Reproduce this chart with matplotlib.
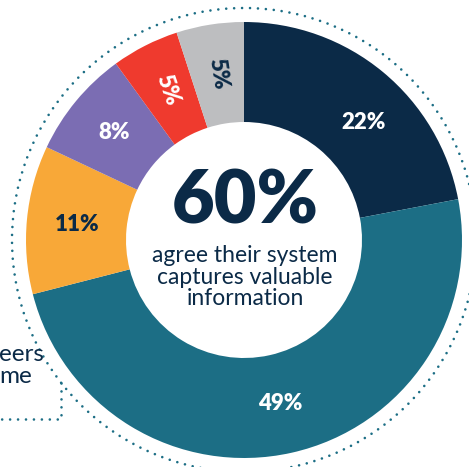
import matplotlib

matplotlib.use("Agg")

import matplotlib.pyplot as plt
import numpy as np
from matplotlib.patches import Circle

# data
shares = [22, 49, 11, 8, 5, 5]
labels = ["22%", "49%", "11%", "8%", "5%", "5%"]
colors = ["#0B2A47", "#1C6E85", "#F8A838", "#7B6DB3", "#EF3A2E", "#BDBEC0"]
label_colors = ["white", "white", "#0B2A47", "white", "white", "#0B2A47"]
rotated = [False, False, False, False, True, True]
headline = "60%"
subtitle = "agree their system\ncaptures valuable\ninformation"
callout = "eers\nme"

NAVY = "#0B2A47"
TEAL = "#1C6E85"
FONT = ["Lato", "DejaVu Sans"]

W, H = 469, 467
cx, cy = 244, H - 240
R = 218
R_IN = 118
R_DOTS = 232

fig = plt.figure(figsize=(W / 100, H / 100), dpi=100)
ax = fig.add_axes([0, 0, 1, 1])

wedges, _ = ax.pie(
    shares,
    colors=colors,
    startangle=90,
    counterclock=False,
    radius=R,
    center=(cx, cy),
    wedgeprops=dict(width=R - R_IN, edgecolor="none", linewidth=0),
    frame=True,
)
ax.set_xlim(0, W)
ax.set_ylim(0, H)
ax.set_aspect("equal")
ax.axis("off")

# labels at wedge midpoints
label_r = 168
for i, (wedge, text, color, rot) in enumerate(zip(wedges, labels, label_colors, rotated)):
    mid = (wedge.theta1 + wedge.theta2) / 2
    if i == 0:
        mid -= 6
    angle = mid - 180 if rot else 0
    if i == 4:
        angle -= 8  # red label sits a bit steeper in the original
    x = cx + label_r * np.cos(np.radians(mid))
    y = cy + label_r * np.sin(np.radians(mid))
    ax.text(
        x, y, text,
        ha="center", va="center",
        rotation=angle,
        rotation_mode="anchor",
        color=color, fontsize=16, fontweight="heavy", family=FONT,
    )

# dotted outer ring
ax.add_patch(
    Circle(
        (cx, cy), R_DOTS, fill=False, edgecolor=TEAL, linewidth=1.9,
        linestyle=(0, (0.01, 3.0)), capstyle="round",
    )
)

# callout bracket
bx = 61
by_top = cy - np.sqrt(R_DOTS**2 - (cx - bx) ** 2)
by_bottom = H - 419
ax.plot([bx, bx, 0], [by_top, by_bottom, by_bottom], color=TEAL, linewidth=1.9,
        linestyle=(0, (0.01, 3.0)), dash_capstyle="round")
ax.text(-1, H - 383, callout, ha="left", va="baseline", color=NAVY,
        fontsize=17.5, family=FONT, linespacing=1.05)

# center text
ax.text(cx + 1, H - 203, headline, ha="center", va="center", color=NAVY,
        fontsize=53, fontweight="heavy", family=FONT)
ax.text(cx + 1, H - 277, subtitle, ha="center", va="center", color=NAVY,
        fontsize=16.5, family=FONT, linespacing=1.03)

fig.savefig("out.png", dpi=100, facecolor="white")
